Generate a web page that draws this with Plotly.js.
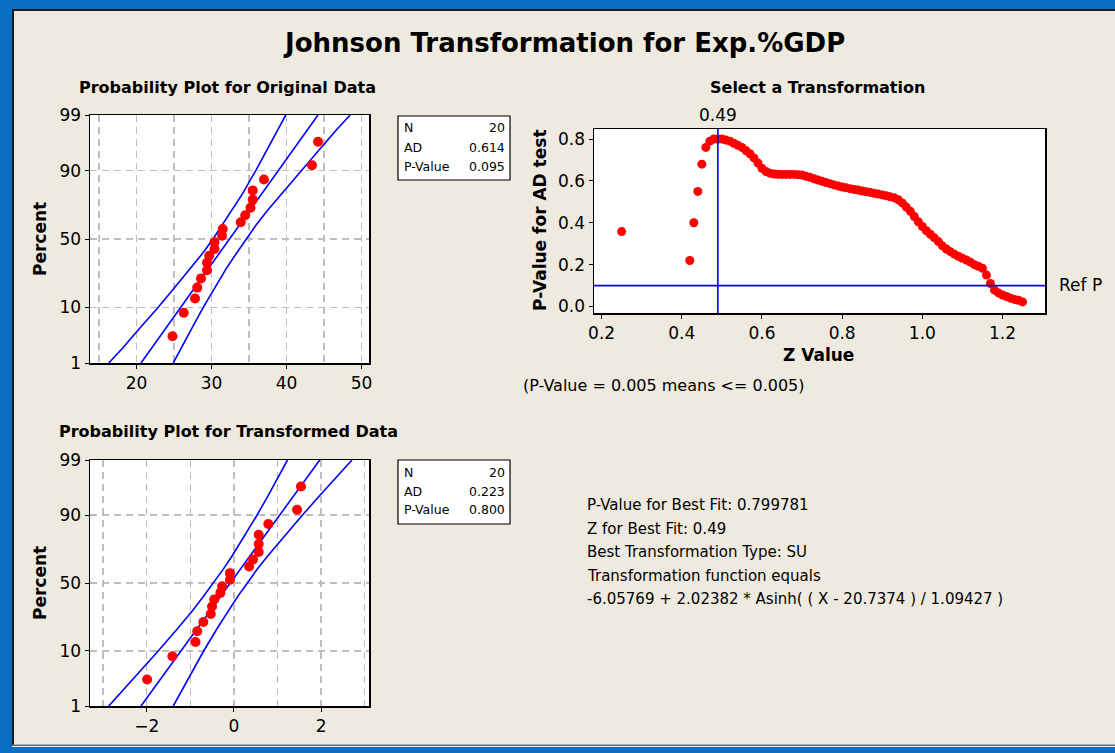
<!DOCTYPE html>
<html><head><meta charset="utf-8">
<script src="https://cdn.plot.ly/plotly-3.0.1.min.js"></script>
<style>html,body{margin:0;padding:0;background:#EEEAE0;} #chart{width:1115px;height:753px;}</style>
</head><body><div id="chart"></div>
<script>
// ---------- data ----------
const pointPercent = [3.4, 8.3, 13.2, 18.1, 23.0, 27.9, 32.8, 37.7, 42.6, 47.5, 52.5, 57.4, 62.3, 67.2, 72.1, 77.0, 81.9, 86.8, 91.7, 96.6];
const originalData = [24.8, 26.3, 27.8, 28.1, 28.6, 29.4, 29.4, 29.7, 30.4, 30.4, 31.4, 31.5, 33.9, 34.5, 35.2, 35.5, 35.5, 37.0, 43.4, 44.2];
const transformedData = [-1.99, -1.41, -0.88, -0.84, -0.70, -0.53, -0.50, -0.45, -0.31, -0.27, -0.09, -0.09, 0.35, 0.44, 0.57, 0.57, 0.57, 0.79, 1.45, 1.54];

const bandPercent = [1, 2, 5, 10, 20, 30, 40, 50, 60, 70, 80, 90, 95, 98, 99];
const origLower = [16.3, 18.1, 20.6, 22.9, 25.5, 27.4, 28.9, 30.2, 31.4, 32.7, 34.1, 35.9, 37.3, 38.9, 39.9];
const origUpper = [24.9, 25.9, 27.5, 28.9, 30.7, 32.1, 33.4, 34.6, 35.9, 37.4, 39.3, 41.9, 44.2, 46.7, 48.5];
const fitPercent = [1, 99];
const origFit = [20.6, 44.2];
const transLower = [-2.87, -2.57, -2.12, -1.73, -1.27, -0.95, -0.70, -0.47, -0.25, -0.03, 0.21, 0.53, 0.78, 1.05, 1.23];
const transUpper = [-1.39, -1.21, -0.94, -0.69, -0.37, -0.13, 0.09, 0.31, 0.53, 0.79, 1.11, 1.57, 1.96, 2.41, 2.71];
const transFit = [-2.13, 1.97];

const percentTicks = [1, 10, 50, 90, 99];
const percentTickText = ['1', '10', '50', '90', '99'];

const zValues = [0.25,
 0.42,0.43,0.44,0.45,0.46,0.47,0.48,0.49,0.50,0.51,0.52,0.53,0.54,0.55,0.56,0.57,0.58,0.59,
 0.60,0.61,0.62,0.63,0.64,0.65,0.66,0.67,0.68,0.69,0.70,0.71,0.72,0.73,0.74,0.75,0.76,0.77,0.78,0.79,
 0.80,0.81,0.82,0.83,0.84,0.85,0.86,0.87,0.88,0.89,0.90,0.91,0.92,0.93,0.94,0.95,0.96,0.97,0.98,0.99,
 1.00,1.01,1.02,1.03,1.04,1.05,1.06,1.07,1.08,1.09,1.10,1.11,1.12,1.13,1.14,1.15,1.16,1.17,1.18,1.19,
 1.20,1.21,1.22,1.23,1.24,1.25];
const pValues = [0.358,
 0.22,0.40,0.55,0.68,0.76,0.79,0.80,0.80,0.80,0.795,0.79,0.78,0.77,0.76,0.745,0.73,0.71,0.685,
 0.66,0.645,0.637,0.633,0.632,0.631,0.631,0.631,0.631,0.630,0.628,0.622,0.617,0.610,0.604,0.598,0.592,0.587,0.581,0.576,
 0.571,0.567,0.563,0.559,0.556,0.552,0.548,0.545,0.541,0.537,0.533,0.529,0.524,0.519,0.510,0.495,0.475,0.455,0.430,0.405,
 0.382,0.362,0.345,0.328,0.310,0.290,0.275,0.262,0.250,0.240,0.230,0.222,0.212,0.200,0.192,0.183,0.150,0.110,0.078,0.065,
 0.055,0.048,0.040,0.034,0.030,0.022];
const bestZ = 0.49;
const refP = 0.1;

const statsOrig = [['N', '20'], ['AD', '0.614'], ['P-Value', '0.095']];
const statsTrans = [['N', '20'], ['AD', '0.223'], ['P-Value', '0.800']];
const infoLines = [
  'P-Value for Best Fit: 0.799781',
  'Z for Best Fit: 0.49',
  'Best Transformation Type: SU',
  'Transformation function equals',
  '-6.05769 + 2.02382 * Asinh( ( X - 20.7374 ) / 1.09427 )'
];

// ---------- probability scale (normal quantile) ----------
function normInv(p){
 const a=[-3.969683028665376e+01,2.209460984245205e+02,-2.759285104469687e+02,1.383577518672690e+02,-3.066479806614716e+01,2.506628277459239e+00];
 const b=[-5.447609879822406e+01,1.615858368580409e+02,-1.556989798598866e+02,6.680131188771972e+01,-1.328068155288572e+01];
 const c=[-7.784894002430293e-03,-3.223964580411365e-01,-2.400758277161838e+00,-2.549732539343734e+00,4.374664141464968e+00,2.938163982698783e+00];
 const d=[7.784695709041462e-03,3.224671290700398e-01,2.445134137142996e+00,3.754408661907416e+00];
 const pl=0.02425, ph=1-pl; let q,r;
 if(p<pl){q=Math.sqrt(-2*Math.log(p));return (((((c[0]*q+c[1])*q+c[2])*q+c[3])*q+c[4])*q+c[5])/((((d[0]*q+d[1])*q+d[2])*q+d[3])*q+1);}
 if(p<=ph){q=p-0.5;r=q*q;return (((((a[0]*r+a[1])*r+a[2])*r+a[3])*r+a[4])*r+a[5])*q/(((((b[0]*r+b[1])*r+b[2])*r+b[3])*r+b[4])*r+1);}
 q=Math.sqrt(-2*Math.log(1-p));return -(((((c[0]*q+c[1])*q+c[2])*q+c[3])*q+c[4])*q+c[5])/((((d[0]*q+d[1])*q+d[2])*q+d[3])*q+1);
}
const pz = arr => arr.map(v => normInv(v/100));

// ---------- geometry helpers ----------
const W = 1115, H = 753;
const px = x => x / W;
const py = y => 1 - y / H;
const FONT = 'DejaVu Sans, Verdana, sans-serif';
const BLUE = '#0000FF', RED = '#FF0000';
const GRID = '#BEBEBE';

const traces = [];
function probTraces(xa, ya, fit, lower, upper, data){
  traces.push({x: lower, y: pz(bandPercent), xaxis: xa, yaxis: ya, mode: 'lines', line: {color: BLUE, width: 1.6}, hoverinfo: 'skip'});
  traces.push({x: upper, y: pz(bandPercent), xaxis: xa, yaxis: ya, mode: 'lines', line: {color: BLUE, width: 1.6}, hoverinfo: 'skip'});
  traces.push({x: fit, y: pz(fitPercent), xaxis: xa, yaxis: ya, mode: 'lines', line: {color: BLUE, width: 1.6}, hoverinfo: 'skip'});
  traces.push({x: data, y: pz(pointPercent), xaxis: xa, yaxis: ya, mode: 'markers', marker: {color: RED, size: 10, line: {width: 0}}, cliponaxis: false});
}
probTraces('x', 'y', origFit, origLower, origUpper, originalData);
probTraces('x2', 'y2', transFit, transLower, transUpper, transformedData);
traces.push({x: zValues, y: pValues, xaxis: 'x3', yaxis: 'y3', mode: 'markers', marker: {color: RED, size: 9, line: {width: 0}}});

const zmin = normInv(0.01), zmax = normInv(0.99);
const TICKFONT = {family: FONT, size: 17, color: '#000'};
function probY(domain){
  return {domain: domain, range: [zmin, zmax], tickmode: 'array', tickvals: pz(percentTicks), ticktext: percentTickText,
    showgrid: true, gridcolor: GRID, gridwidth: 1.5, griddash: '7px,5px', zeroline: false,
    showline: true, linecolor: '#000', linewidth: 1.5, mirror: true, ticks: 'outside', ticklen: 4, tickcolor: '#000',
    tickfont: TICKFONT, fixedrange: true};
}
function probX(domain, range, dtick, minorDtick, anchor){
  return {domain: domain, range: range, anchor: anchor, tickmode: 'linear', tick0: 0, dtick: dtick,
    showgrid: true, gridcolor: GRID, gridwidth: 1.5, griddash: '7px,5px', zeroline: false,
    minor: {tickmode: 'linear', tick0: 0, dtick: minorDtick, showgrid: true, gridcolor: GRID, gridwidth: 1.5, griddash: '7px,5px', ticks: ''},
    showline: true, linecolor: '#000', linewidth: 1.5, mirror: true, ticks: 'outside', ticklen: 4, tickcolor: '#000',
    tickfont: TICKFONT, fixedrange: true};
}

const layout = {
  width: W, height: H, margin: {l: 0, r: 0, t: 0, b: 0},
  paper_bgcolor: '#EEEAE0', plot_bgcolor: '#FFFFFF', showlegend: false,
  font: {family: FONT, color: '#000'},
  xaxis: probX([px(90), px(369)], [13.8, 51.0], 10, 5, 'y'),
  yaxis: Object.assign(probY([py(363), py(115)]), {anchor: 'x'}),
  xaxis2: probX([px(90), px(369)], [-3.3, 3.1], 2, 1, 'y2'),
  yaxis2: Object.assign(probY([py(706), py(460)]), {anchor: 'x2'}),
  xaxis3: {domain: [px(594), px(1045)], range: [0.181, 1.306], anchor: 'y3', tickmode: 'linear', tick0: 0, dtick: 0.2, tickformat: '.1f',
    showgrid: false, zeroline: false, showline: true, linecolor: '#000', linewidth: 1.5, mirror: true,
    ticks: 'outside', ticklen: 4, tickcolor: '#000', tickfont: TICKFONT, fixedrange: true},
  yaxis3: {domain: [py(313), py(129)], range: [-0.031, 0.848], anchor: 'x3', tickmode: 'linear', tick0: 0, dtick: 0.2, tickformat: '.1f',
    showgrid: false, zeroline: false, showline: true, linecolor: '#000', linewidth: 1.5, mirror: true,
    ticks: 'outside', ticklen: 4, tickcolor: '#000', tickfont: TICKFONT, fixedrange: true},
  shapes: [],
  annotations: []
};

// frame
const S = layout.shapes;
function rect(x0, y0, x1, y1, fill, line){
  S.push({type: 'rect', xref: 'paper', yref: 'paper', x0: px(x0), x1: px(x1), y0: py(y0), y1: py(y1),
    fillcolor: fill, line: line || {width: 0}, layer: 'below'});
}
rect(0, 0, 12, 753, '#0A6FC4');
rect(0, 0, 1115, 9, '#0A6FC4');
rect(0, 747, 1115, 753, '#0A6FC4');
rect(12, 9, 14, 746, '#1A1A1A');
rect(12, 9, 1115, 11, '#1A1A1A');
rect(12, 744.5, 1115, 746, '#6E6E6E');

// reference lines on the transformation plot
S.push({type: 'line', xref: 'x3', yref: 'y3 domain', x0: bestZ, x1: bestZ, y0: 0, y1: 1, line: {color: BLUE, width: 1.6}});
S.push({type: 'line', xref: 'x3 domain', yref: 'y3', x0: 0, x1: 1, y0: refP, y1: refP, line: {color: BLUE, width: 1.6}});

// stats boxes
function statsBox(top, rows){
  S.push({type: 'rect', xref: 'paper', yref: 'paper', x0: px(398), x1: px(510), y0: py(top + 64), y1: py(top),
    fillcolor: '#FFFFFF', line: {color: '#000', width: 1.2}, layer: 'above'});
  rows.forEach((r, i) => {
    const y = top + 12 + i * 19;
    layout.annotations.push({xref: 'paper', yref: 'paper', x: px(402), y: py(y), xanchor: 'left', yanchor: 'middle',
      text: r[0], showarrow: false, font: {family: FONT, size: 12.5}});
    layout.annotations.push({xref: 'paper', yref: 'paper', x: px(507), y: py(y), xanchor: 'right', yanchor: 'middle',
      text: r[1], showarrow: false, font: {family: FONT, size: 12.5}});
  });
}
statsBox(116, statsOrig);
statsBox(460, statsTrans);

function txt(text, x, y, size, opts){
  layout.annotations.push(Object.assign({xref: 'paper', yref: 'paper', x: px(x), y: py(y), xanchor: 'center', yanchor: 'middle',
    text: text, showarrow: false, font: {family: FONT, size: size, color: '#000'}}, opts || {}));
}
txt('<b>Johnson Transformation for Exp.%GDP</b>', 564, 43, 26);
txt('<b>Probability Plot for Original Data</b>', 227, 87, 16);
txt('<b>Select a Transformation</b>', 817, 87, 16);
txt('<b>Probability Plot for Transformed Data</b>', 228, 431, 16);
txt('<b>Percent</b>', 40, 239, 17, {textangle: -90});
txt('<b>Percent</b>', 40, 583, 17, {textangle: -90});
txt('<b>P-Value for AD test</b>', 540, 220, 17, {textangle: -90});
txt('<b>Z Value</b>', 818, 355, 17);
txt('0.49', 718, 115, 17);
txt('Ref P', 1057, 285, 17, {xanchor: 'left'});
txt('(P-Value = 0.005 means <= 0.005)', 521, 385, 16, {xanchor: 'left'});
infoLines.forEach((l, i) => txt(l, 585, 505 + i * 23.6, 15, {xanchor: 'left'}));

Plotly.newPlot('chart', traces, layout, {displayModeBar: false, staticPlot: true});
</script>
</body></html>
